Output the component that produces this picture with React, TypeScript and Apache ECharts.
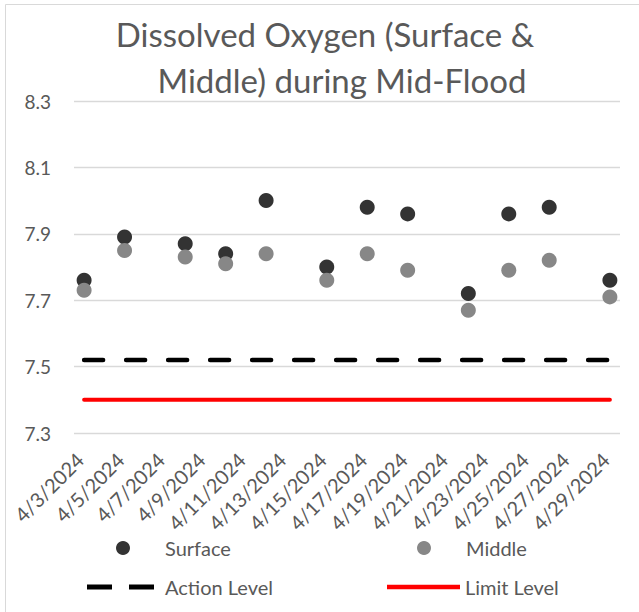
import React, { useEffect, useRef } from "react";
import * as echarts from "echarts";

const TITLE_LINE_1 = "Dissolved Oxygen (Surface &";
const TITLE_LINE_2 = "Middle) during Mid-Flood";

const CATEGORIES = [
  "4/3/2024", "4/4/2024", "4/5/2024", "4/6/2024", "4/7/2024", "4/8/2024",
  "4/9/2024", "4/10/2024", "4/11/2024", "4/12/2024", "4/13/2024", "4/14/2024",
  "4/15/2024", "4/16/2024", "4/17/2024", "4/18/2024", "4/19/2024", "4/20/2024",
  "4/21/2024", "4/22/2024", "4/23/2024", "4/24/2024", "4/25/2024", "4/26/2024",
  "4/27/2024", "4/28/2024", "4/29/2024",
];

const SAMPLE_DATES = [
  "4/3/2024", "4/5/2024", "4/8/2024", "4/10/2024", "4/12/2024", "4/15/2024",
  "4/17/2024", "4/19/2024", "4/22/2024", "4/24/2024", "4/26/2024", "4/29/2024",
];
const SURFACE = [7.76, 7.89, 7.87, 7.84, 8.0, 7.8, 7.98, 7.96, 7.72, 7.96, 7.98, 7.76];
const MIDDLE = [7.73, 7.85, 7.83, 7.81, 7.84, 7.76, 7.84, 7.79, 7.67, 7.79, 7.82, 7.71];

const ACTION_LEVEL = 7.52;
const LIMIT_LEVEL = 7.4;

const Y_MIN = 7.3;
const Y_MAX = 8.3;
const Y_STEP = 0.2;

const FONT = "Lato";
const TEXT_COLOR = "#595959";

export default function App() {
  const ref = useRef<HTMLDivElement>(null);
  useEffect(() => {
    document.body.style.margin = "0";
    const chart = echarts.init(ref.current!, null, { renderer: "svg" });
    const shift = (v: number) => +(v - Y_MIN).toFixed(4);
    const legendText = { color: TEXT_COLOR, fontFamily: FONT, fontSize: 20 };
    chart.setOption({
      animation: false,
      backgroundColor: "#ffffff",
      title: [
        {
          text: TITLE_LINE_1,
          left: 325,
          top: 17,
          padding: 0,
          textAlign: "center",
          textStyle: { color: TEXT_COLOR, fontFamily: FONT, fontSize: 33, fontWeight: "normal" },
        },
        {
          text: TITLE_LINE_2,
          left: 342,
          top: 63,
          padding: 0,
          textAlign: "center",
          textStyle: { color: TEXT_COLOR, fontFamily: FONT, fontSize: 33, fontWeight: "normal" },
        },
      ],
      graphic: [
        {
          type: "rect",
          shape: { x: 5.5, y: 4.5, width: 800, height: 800 },
          style: { fill: "none", stroke: "#d9d9d9", lineWidth: 1 },
          silent: true,
        },
      ],
      legend: [
        {
          data: [{ name: "Surface", icon: "circle" }],
          left: 116, top: 538, padding: 0, itemWidth: 14, itemHeight: 14,
          textStyle: { ...legendText, padding: [0, 0, 0, 30] }, selectedMode: false,
        },
        {
          data: [{ name: "Middle", icon: "circle" }],
          left: 417, top: 538, padding: 0, itemWidth: 14, itemHeight: 14,
          textStyle: { ...legendText, padding: [0, 0, 0, 30] }, selectedMode: false,
        },
        {
          data: [{ name: "Action Level", icon: "path://M0,0h25v5h-25z M42,0h25v5h-25z" }],
          left: 87, top: 577, padding: 0, itemWidth: 67, itemHeight: 14,
          textStyle: { ...legendText, padding: [0, 0, 0, 6] }, selectedMode: false,
        },
        {
          data: [{ name: "Limit Level", icon: "path://M0,0h73v4.5h-73z" }],
          left: 387, top: 577, padding: 0, itemWidth: 73, itemHeight: 14,
          textStyle: { ...legendText }, selectedMode: false,
        },
      ],
      grid: { left: 74, right: 19, top: 101, bottom: 179, containLabel: false },
      xAxis: {
        type: "category",
        data: CATEGORIES,
        boundaryGap: true,
        axisLine: { show: false },
        axisTick: { show: false },
        axisLabel: {
          interval: 1,
          rotate: 45,
          margin: 19,
          padding: [0, 6, 0, 0],
          color: TEXT_COLOR,
          fontFamily: FONT,
          fontSize: 20,
        },
        splitLine: { show: false },
      },
      yAxis: {
        type: "value",
        min: 0,
        max: shift(Y_MAX),
        interval: Y_STEP,
        axisLine: { show: false },
        axisTick: { show: false },
        axisLabel: {
          margin: 23,
          color: TEXT_COLOR,
          fontFamily: FONT,
          fontSize: 19,
          formatter: (v: number) => (v + Y_MIN).toFixed(1),
        },
        splitLine: { lineStyle: { color: "#d9d9d9", width: 1.3 } },
      },
      series: [
        {
          name: "Surface",
          type: "scatter",
          symbol: "circle",
          symbolSize: 15,
          itemStyle: { color: "#333333", opacity: 1 },
          data: SAMPLE_DATES.map((d, i) => [d, shift(SURFACE[i])]),
          z: 4,
        },
        {
          name: "Middle",
          type: "scatter",
          symbol: "circle",
          symbolSize: 15,
          itemStyle: { color: "#878787", opacity: 1 },
          data: SAMPLE_DATES.map((d, i) => [d, shift(MIDDLE[i])]),
          z: 5,
        },
        {
          name: "Action Level",
          type: "line",
          symbol: "none",
          showSymbol: false,
          itemStyle: { color: "#000000" },
          lineStyle: { color: "#000000", width: 4.5, type: [19, 23], cap: "round" },
          data: CATEGORIES.map(() => shift(ACTION_LEVEL)),
          z: 3,
        },
        {
          name: "Limit Level",
          type: "line",
          symbol: "none",
          showSymbol: false,
          itemStyle: { color: "#ff0000" },
          lineStyle: { color: "#ff0000", width: 4, cap: "round" },
          data: CATEGORIES.map(() => shift(LIMIT_LEVEL)),
          z: 3,
        },
      ],
    });
    return () => chart.dispose();
  }, []);
  return <div ref={ref} style={{ width: 639, height: 612 }} />;
}
